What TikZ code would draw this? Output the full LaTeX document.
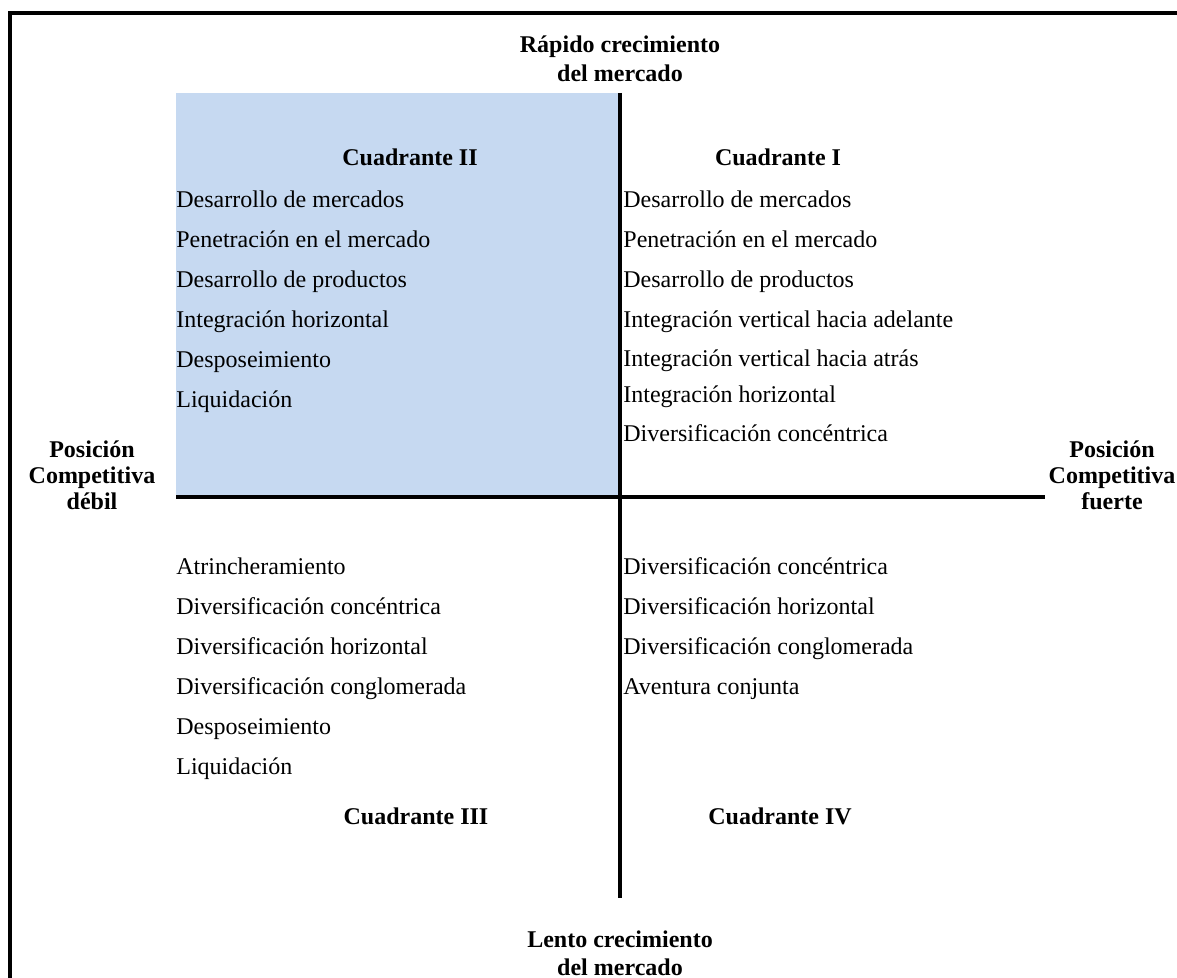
\documentclass[tikz,border=0pt]{standalone}
\usepackage{fontspec}
\setmainfont{Liberation Serif}
\definecolor{quadblue}{HTML}{C6D9F1}
\begin{document}
\begin{tikzpicture}[x=0.5pt,y=-0.5pt,
  item/.style={anchor=base west,inner sep=0pt,font=\fontsize{12}{14}\selectfont},
  head/.style={anchor=base,inner sep=0pt,font=\fontsize{12}{14}\selectfont\bfseries},
  axisline/.style={line width=1.8pt},
  frameline/.style={line width=2pt},
]
\useasboundingbox (0,0) rectangle (1177,978);
\fill[white] (0,0) rectangle (1177,978);

% outer frame (top and left edges)
\draw[frameline] (1190,13) -- (10,13) -- (10,995);

% shaded second quadrant
\fill[quadblue] (176,93) rectangle (620,497);

% axes
\coordinate (vtop) at (620,93);
\coordinate (vbot) at (620,898);
\coordinate (hleft) at (176,497);
\coordinate (hright) at (1045,497);
\draw[axisline] (vtop) -- (vbot);
\draw[axisline] (hleft) -- (hright);

% axis labels
\node[head] (fast1) at (620,53) {Rápido crecimiento};
\node[head] (fast2) at (620,82) {del mercado};
\node[head] (slow1) at (620,947) {Lento crecimiento};
\node[head] (slow2) at (620,975) {del mercado};
\node[head] (weak1) at (92,457) {Posición};
\node[head] (weak2) at (92,483) {Competitiva};
\node[head] (weak3) at (92,509) {débil};
\node[head] (strong1) at (1112,457) {Posición};
\node[head] (strong2) at (1112,483) {Competitiva};
\node[head] (strong3) at (1112,509) {fuerte};

% quadrant titles
\node[head] (q2) at (410,166) {Cuadrante II};
\node[head] (q1) at (778,166) {Cuadrante I};
\node[head] (q3) at (416,824) {Cuadrante III};
\node[head] (q4) at (780,824) {Cuadrante IV};

% quadrant II strategies
\node[item] (a1) at (176,208) {Desarrollo de mercados};
\node[item] (a2) at (176,248) {Penetración en el mercado};
\node[item] (a3) at (176,288) {Desarrollo de productos};
\node[item] (a4) at (176,328) {Integración horizontal};
\node[item] (a5) at (176,368) {Desposeimiento};
\node[item] (a6) at (176,408) {Liquidación};

% quadrant I strategies
\node[item] (b1) at (623,208) {Desarrollo de mercados};
\node[item] (b2) at (623,248) {Penetración en el mercado};
\node[item] (b3) at (623,288) {Desarrollo de productos};
\node[item] (b4) at (623,328) {Integración vertical hacia adelante};
\node[item] (b5) at (623,367) {Integración vertical hacia atrás};
\node[item] (b6) at (623,402) {Integración horizontal};
\node[item] (b7) at (623,441) {Diversificación concéntrica};

% quadrant III strategies
\node[item] (c1) at (176,574) {Atrincheramiento};
\node[item] (c2) at (176,614) {Diversificación concéntrica};
\node[item] (c3) at (176,654) {Diversificación horizontal};
\node[item] (c4) at (176,694) {Diversificación conglomerada};
\node[item] (c5) at (176,734) {Desposeimiento};
\node[item] (c6) at (176,774) {Liquidación};

% quadrant IV strategies
\node[item] (d1) at (623,574) {Diversificación concéntrica};
\node[item] (d2) at (623,614) {Diversificación horizontal};
\node[item] (d3) at (623,654) {Diversificación conglomerada};
\node[item] (d4) at (623,694) {Aventura conjunta};
\end{tikzpicture}
\end{document}
